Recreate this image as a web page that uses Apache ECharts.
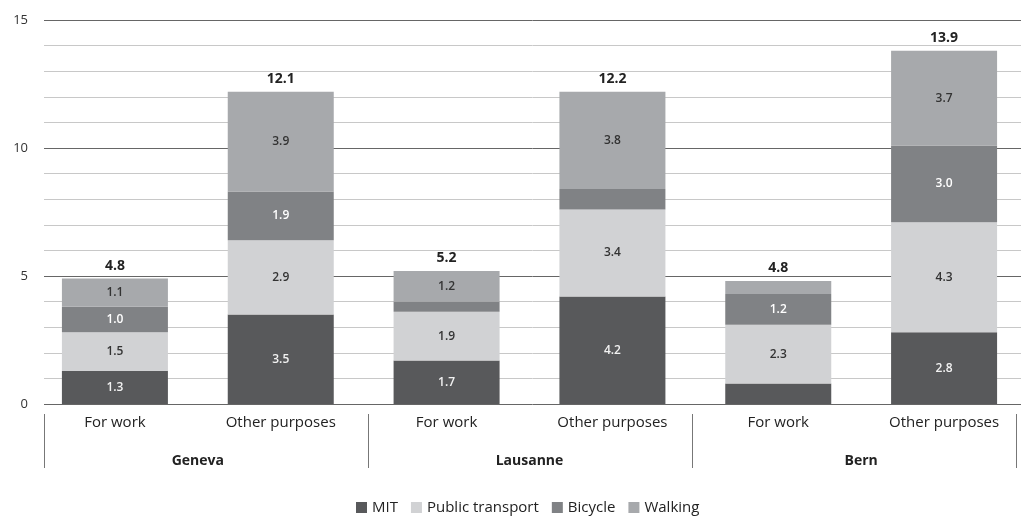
<!DOCTYPE html>
<html><head><meta charset="utf-8">
<script src="https://cdn.jsdelivr.net/npm/echarts@6/dist/echarts.min.js"></script>
<style>html,body{margin:0;padding:0;background:#fff}#c{width:1021px;height:516px}</style>
</head><body><div id="c"></div>
<script>
const categories = ['For work','Other purposes','For work','Other purposes','For work','Other purposes'];
const groups = ['Geneva','Lausanne','Bern'];
const mit = [1.3, 3.5, 1.7, 4.2, 0.8, 2.8];
const publicTransport = [1.5, 2.9, 1.9, 3.4, 2.3, 4.3];
const bicycle = [1.0, 1.9, 0.4, 0.8, 1.2, 3.0];
const walking = [1.1, 3.9, 1.2, 3.8, 0.5, 3.7];
const totals = [4.8, 12.1, 5.2, 12.2, 4.8, 13.9];
const yTicks = [0, 5, 10, 15];

const FONT = '"Open Sans", "Noto Sans", sans-serif';
const chart = echarts.init(document.getElementById('c'), null, {renderer:'canvas'});
function seg(name, data, color, textColor){
  return {
    name, type:'bar', stack:'s', data, xAxisIndex:1, yAxisIndex:1, barWidth:106,
    itemStyle:{color},
    label:{show:true, position:'inside', color:textColor, fontSize:12, fontWeight:600, fontFamily:FONT,
      formatter:p=> p.value>=1 ? p.value.toFixed(1) : ''}
  };
}
chart.setOption({
  animation:false,
  textStyle:{fontFamily:FONT},
  grid:[
    {left:44, right:0, top:20, bottom:112, outerBoundsMode:'none', containLabel:false},
    {left:32, right:-6, top:20, bottom:112, outerBoundsMode:'none', containLabel:false},
    {left:44, right:5, top:20, bottom:102, outerBoundsMode:'none', containLabel:false}
  ],
  xAxis:[
    {type:'category', gridIndex:0, data:groups, show:false},
    {type:'category', gridIndex:1, data:categories, position:'bottom', axisLine:{show:false}, axisTick:{show:false},
      axisLabel:{margin:11, color:'#222', fontSize:15, fontFamily:FONT}},
    {type:'category', gridIndex:1, data:groups, position:'bottom', offset:42, axisLine:{show:false}, axisTick:{show:false},
      axisLabel:{margin:8, color:'#222', fontSize:14, fontWeight:'bold', fontFamily:FONT}},
    {type:'category', gridIndex:2, data:groups, position:'bottom',
      axisLine:{show:false}, axisLabel:{show:false},
      axisTick:{show:true, length:54, lineStyle:{color:'#777', width:1}}}
  ],
  yAxis:[
    {type:'value', gridIndex:0, min:0, max:15, interval:1,
      axisLine:{show:false}, axisTick:{show:false},
      axisLabel:{margin:16, color:'#333', fontSize:13, fontFamily:FONT,
        formatter:v=> yTicks.includes(v) ? String(v) : ''},
      splitLine:{lineStyle:{color:['#666','#c8c8c8','#c8c8c8','#c8c8c8','#c8c8c8'], width:1}}},
    {type:'value', gridIndex:1, min:0, max:15, show:false, splitLine:{show:false}},
    {type:'value', gridIndex:2, min:0, max:15, show:false, splitLine:{show:false}}
  ],
  legend:{bottom:-4, left:351, itemWidth:11, itemHeight:11, itemGap:13, icon:'rect',
    textStyle:{fontSize:15, color:'#222', fontFamily:FONT},
    data:['MIT','Public transport','Bicycle','Walking']},
  series:[
    seg('MIT', mit, '#58595b', '#f2f2f2'),
    seg('Public transport', publicTransport, '#d1d2d4', '#333'),
    seg('Bicycle', bicycle, '#808285', '#fff'),
    seg('Walking', walking, '#a7a9ac', '#333'),
    {name:'Total', type:'bar', stack:'s', xAxisIndex:1, yAxisIndex:1, barWidth:106,
      data: totals.map(()=>0), itemStyle:{color:'transparent'},
      label:{show:true, position:'top', distance:6, color:'#222', fontSize:14, fontWeight:'bold', fontFamily:FONT,
        formatter:p=> totals[p.dataIndex].toFixed(1)}}
  ]
});
</script></body></html>
